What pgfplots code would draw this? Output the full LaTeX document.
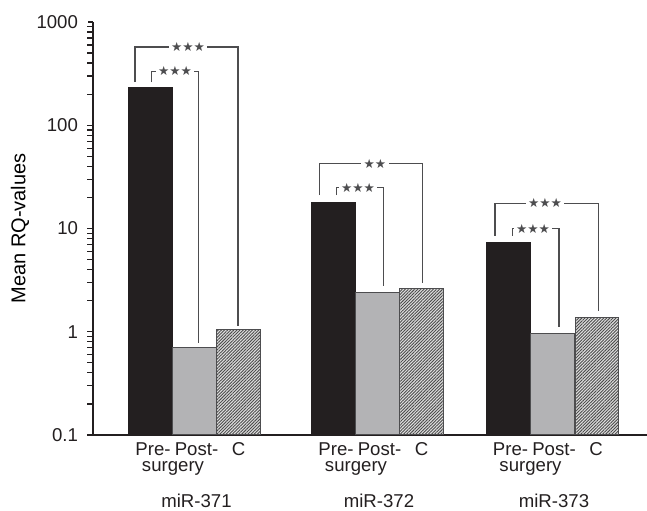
\documentclass[border=0pt]{standalone}
\usepackage{fontspec}
\setmainfont{Liberation Sans}
\newfontfamily\starfont{DejaVu Sans}
\usepackage{pgfplots}
\pgfplotsset{compat=1.18}
\usetikzlibrary{patterns.meta}

\definecolor{barblack}{HTML}{231F20}
\definecolor{bargray}{HTML}{B3B3B5}
\definecolor{linegray}{HTML}{4D4D4F}

% significance bracket: x-left, y-left-bottom, x-right, y-right-bottom, y-top, x-stars, stars
\newcommand{\sigbracket}[7]{%
  \draw[linegray, line width=0.65pt] (axis cs:#1,#2) |- (axis cs:#3,#5) -- (axis cs:#3,#4);
  \node[fill=white, inner sep=1.2pt, font=\starfont\fontsize{6.3}{6.3}\selectfont, text=linegray]
    at (axis cs:#6,#5) {#7};
}
% category text below the axis: x, baseline shift, text
\newcommand{\catlabel}[3]{%
  \node[anchor=base, inner sep=0pt, font=\fontsize{9.3}{11}\selectfont, text=barblack]
    at ([yshift=#2]axis cs:#1,0.1) {#3};
}

\begin{document}
\begin{tikzpicture}
\begin{axis}[
  scale only axis,
  width=277pt, height=206.5pt,
  xmin=93, xmax=647,
  ymode=log, ymin=0.1, ymax=1000, log origin=infty,
  ytick={0.1,1,10,100,1000},
  yticklabels={0.1,1,10,100,1000},
  minor ytick={},
  axis x line*=bottom, axis y line*=left,
  axis line style={barblack, line width=0.6pt},
  y tick style={barblack, line width=0.6pt},
  tick align=outside, major tick length=2.5pt,
  ytick pos=left,
  xtick=\empty,
  yticklabel style={xshift=-1.5pt, font=\fontsize{9.3}{11}\selectfont, text=barblack},
  ylabel={Mean RQ-values},
  ylabel style={font=\fontsize{10}{12}\selectfont, text=barblack},
  every axis y label/.style={at={(rel axis cs:-0.1318,0.5)}, rotate=90, anchor=center},
  ybar, bar shift=0pt, bar width=44,
  clip=false,
]
\addplot[fill=barblack, draw=barblack, line width=0.4pt]
  coordinates {(150,234) (333.5,18) (508,7.3)};
\addplot[fill=bargray, draw=linegray, line width=0.5pt]
  coordinates {(194,0.70) (377.5,2.4) (552.5,0.96)};
\addplot[fill=black!12, draw=linegray, line width=0.5pt,
  postaction={pattern={Lines[angle=45, distance=1.1pt, line width=0.45pt]}, pattern color=black!70}]
  coordinates {(238.5,1.04) (421.5,2.6) (597,1.36)};

\sigbracket{135}{262}{238}{1.14}{573}{188}{★★★}
\sigbracket{151.7}{262}{198.7}{0.78}{333}{175}{★★★}
\sigbracket{319.3}{21.1}{422.7}{2.99}{42.4}{375}{★★}
\sigbracket{336.7}{21.1}{383.3}{2.77}{24.8}{358}{★★★}
\sigbracket{495}{8.46}{598.3}{1.59}{17.5}{545}{★★★}
\sigbracket{512.3}{8.46}{559}{1.12}{10.0}{533}{★★★}

\catlabel{153}{-10.5pt}{Pre-}
\catlabel{196.5}{-10.5pt}{Post-}
\catlabel{238.5}{-10.5pt}{C}
\catlabel{336}{-10.5pt}{Pre-}
\catlabel{379.5}{-10.5pt}{Post-}
\catlabel{421.5}{-10.5pt}{C}
\catlabel{510.5}{-10.5pt}{Pre-}
\catlabel{554}{-10.5pt}{Post-}
\catlabel{596}{-10.5pt}{C}
\catlabel{173}{-18.5pt}{surgery}
\catlabel{356}{-18.5pt}{surgery}
\catlabel{530.5}{-18.5pt}{surgery}
\catlabel{196.5}{-36.5pt}{miR-371}
\catlabel{379}{-36.5pt}{miR-372}
\catlabel{554}{-36.5pt}{miR-373}

\coordinate (bbl) at (rel axis cs:-0.1679,-0.184);
\coordinate (btr) at (rel axis cs:1,1.0533);
\end{axis}
\pgfresetboundingbox
\useasboundingbox (bbl) rectangle (btr);
\end{tikzpicture}
\end{document}
